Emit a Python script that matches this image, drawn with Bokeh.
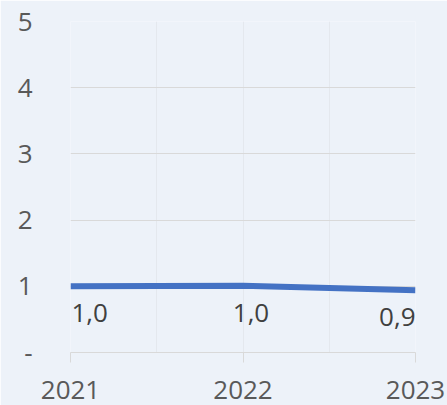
from bokeh.plotting import figure
from bokeh.models import ColumnDataSource, FixedTicker, Range1d, LabelSet
from bokeh.core.properties import value
from bokeh.embed import file_html
from bokeh.resources import INLINE

years = [2021, 2022, 2023]
values = [1.0, 1.01, 0.94]
labels = ["1,0", "1,0", "0,9"]
y_ticks = [0, 1, 2, 3, 4, 5]
y_tick_labels = {0: "-", 1: "1", 2: "2", 3: "3", 4: "4", 5: "5"}
x_tick_labels = {2021: "2021", 2022: "2022", 2023: "2023"}

BG = "#EDF2F9"
FONT = "Open Sans"

p = figure(width=447, height=405, output_backend="svg", toolbar_location=None,
           x_range=Range1d(2021, 2023), y_range=Range1d(0, 5))
p.min_border_left = 70
p.min_border_right = 32
p.min_border_top = 21
p.min_border_bottom = 53
p.background_fill_color = BG
p.border_fill_color = BG
p.outline_line_color = None

src = ColumnDataSource(dict(x=years, y=values, t=labels))
p.line("x", "y", source=src, line_color="#4472C4", line_width=6)

offs = [(1, "left"), (8, "center"), (0, "right")]
for i in range(3):
    s = ColumnDataSource(dict(x=[years[i]], y=[values[i]], t=[labels[i]]))
    lbl = LabelSet(x="x", y="y", text="t", source=s, text_align=offs[i][1],
                   text_baseline="alphabetic", x_offset=offs[i][0], y_offset=-36,
                   text_font=value(FONT), text_font_size="26px", text_color="#404040")
    p.add_layout(lbl)

# y axis
p.yaxis.ticker = FixedTicker(ticks=y_ticks)
p.yaxis.major_label_overrides = y_tick_labels
p.yaxis.axis_line_color = None
p.yaxis.major_tick_line_color = None
p.yaxis.minor_tick_line_color = None
p.yaxis.major_label_standoff = 32
p.yaxis.major_label_text_font = FONT
p.yaxis.major_label_text_font_size = "26px"
p.yaxis.major_label_text_color = "#595959"

# x axis
p.xaxis.ticker = FixedTicker(ticks=years)
p.xaxis.major_label_overrides = x_tick_labels
p.xaxis.axis_line_color = "#D9D9D9"
p.xaxis.major_tick_line_color = "#D9D9D9"
p.xaxis.major_tick_out = 10
p.xaxis.major_tick_in = 0
p.xaxis.minor_tick_line_color = None
p.xaxis.major_label_standoff = 18
p.xaxis.major_label_text_font = FONT
p.xaxis.major_label_text_font_size = "26px"
p.xaxis.major_label_text_color = "#595959"

p.ygrid.ticker = FixedTicker(ticks=[1, 2, 3, 4, 5])
p.ygrid.grid_line_color = "#D9D9D9"
p.xgrid.ticker = FixedTicker(ticks=[2021, 2021.5, 2022, 2022.5, 2023])
p.xgrid.grid_line_color = "#E4E8EE"

open("out.html", "w").write(file_html(p, INLINE))
